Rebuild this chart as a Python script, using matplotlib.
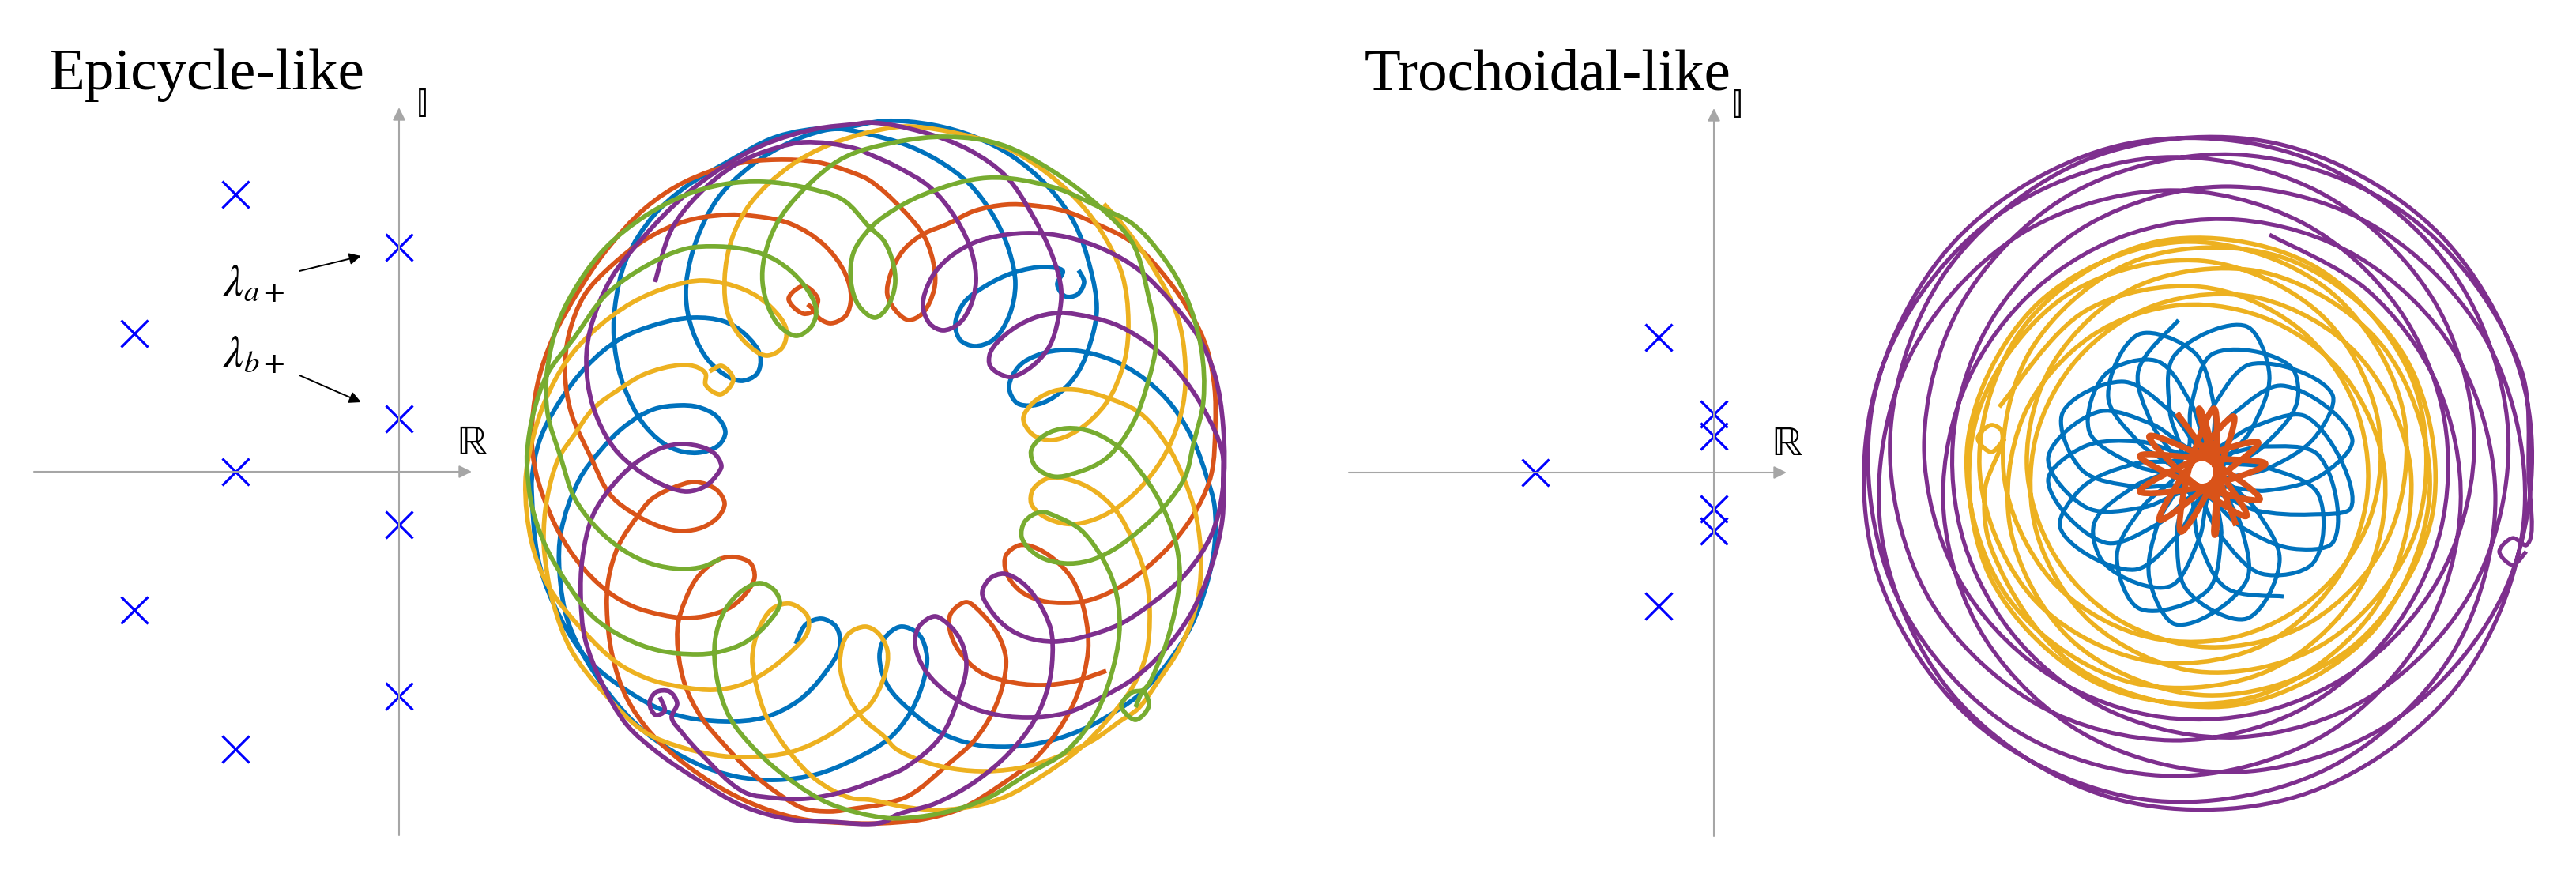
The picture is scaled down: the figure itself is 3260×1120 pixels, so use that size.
import numpy as np
import matplotlib
matplotlib.use("Agg")
import matplotlib.pyplot as plt
from matplotlib.path import Path
from matplotlib.patches import PathPatch

plt.rcParams["mathtext.fontset"] = "stix"
plt.rcParams["font.family"] = ["Liberation Serif", "DejaVu Serif"]

# ---------------------------
# poles
# ---------------------------
epi_re = [-2.07, -3.35, 0, 0, 0, -2.07, 0, -3.35, -2.07]
epi_im = [3.51, 1.75, 2.84, 0.67, -0.67, 0, -2.84, -1.75, -3.51]
tro_re = [-0.70, -2.26, 0, 0, 0, 0, -0.70]
tro_im = [1.71, 0, 0.74, 0.46, -0.46, -0.74, -1.69]

titles = ["Epicycle-like", "Trochoidal-like"]
labels = [r"$\lambda_{a+}$", r"$\lambda_{b+}$"]

# ---------------------------
# orbit traces in image pixels
# epi_* were traced line by line off the picture.
# tro_* are rough: single lines can't be followed through the lattice, so these
# points were worked out by hand from the envelope radii, tips and crossings
# They match the look, not each individual line.
# ---------------------------
epi_blue = [(1365,342),(1372,357),(1363,373),(1348,375),(1338,360),(1345,343),(1323,338),(1283,345),(1247,362),(1220,383),(1209,410),(1215,430),(1233,438),(1257,430),(1277,400),(1285,360),(1277,317),(1257,273),(1227,233),(1187,203),(1143,182),(1100,170),(1077,165),(1050,162),(983,173),(917,207),(867,237),(827,273),(793,327),(778,390),(778,440),(790,490),(817,540),(850,567),(883,573),(910,563),(918,547),(907,527),(883,515),(860,513),(827,518),(790,540),(760,570),(733,607),(710,673),(708,723),(720,790),(767,873),(817,927),(883,967),(933,983),(983,987),(1033,980),(1083,960),(1127,933),(1153,900),(1170,857),(1173,830),(1163,803),(1140,793),(1120,807),(1113,830),(1123,867),(1153,900),(1190,927),(1233,942),(1277,945),(1327,938),(1377,920),(1417,897),(1443,878),(1477,840),(1507,793),(1527,740),(1537,690),(1537,640),(1527,603),(1510,557),(1483,513),(1453,483),(1417,460),(1380,447),(1347,443),(1317,448),(1290,463),(1277,490),(1287,510),(1307,513),(1333,503),(1363,473),(1383,423),(1388,390),(1380,340),(1360,283),(1327,237),(1280,197),(1233,173),(1180,158),(1120,153),(1067,162),(1043,165),(1000,180),(950,210),(907,253),(877,317),(868,373),(877,420),(900,460),(937,482),(958,473),(962,450),(943,423),(917,407),(877,402),(833,410),(783,430),(743,463),(707,510),(683,557),(673,607),(673,623),(681,707),(700,763),(740,830),(783,867),(850,903),(917,913),(967,908),(1010,887),(1043,853),(1063,817),(1058,793),(1040,783),(1020,790),(1007,815)]
epi_orange = [(1022,385),(1030,393),(1017,397),(998,378),(1017,362),(1035,378),(1032,397),(1050,409),(1070,400),(1077,377),(1070,347),(1043,310),(1000,283),(950,273),(917,272),(867,280),(817,303),(773,337),(740,373),(720,423),(715,473),(723,523),(747,577),(773,627),(807,653),(837,667),(863,672),(890,667),(910,653),(917,637),(907,620),(880,610),(850,618),(823,633),(807,653),(783,690),(770,733),(768,770),(775,830),(793,883),(823,927),(867,967),(917,1000),(967,1023),(1017,1037),(1083,1042),(1113,1042),(1167,1037),(1217,1023),(1267,993),(1307,963),(1340,923),(1363,880),(1377,823),(1373,777),(1357,733),(1333,707),(1307,692),(1290,690),(1273,703),(1273,723),(1290,747),(1317,760),(1347,763),(1377,760),(1417,743),(1453,717),(1490,680),(1517,640),(1533,600),(1538,540),(1537,490),(1527,440),(1507,397),(1477,353),(1433,307),(1387,283),(1347,267),(1307,260),(1273,259),(1233,267),(1200,283),(1167,297),(1143,317),(1127,347),(1123,373),(1137,397),(1150,405),(1167,397),(1182,367),(1183,343),(1170,300),(1140,263),(1100,228),(1083,220),(1033,205),(983,202),(933,207),(867,230),(817,263),(767,317),(733,367),(700,427),(680,487),(673,557),(678,597),(687,627),(707,673),(733,713),(767,747),(800,767),(837,778),(867,782),(900,778),(927,767),(947,747),(955,730),(950,713),(930,705),(910,708),(883,730),(867,760),(858,790),(858,823),(867,867),(887,907),(917,943),(950,977),(983,1003),(1017,1023),(1050,1027),(1083,1023),(1120,1017),(1150,1007),(1200,967),(1233,937),(1257,900),(1270,863),(1273,833),(1263,803),(1243,777),(1223,762),(1203,777),(1202,797),(1213,823),(1240,850),(1273,862),(1317,867),(1360,862),(1400,849)]
epi_yellow = [(898,470),(913,463),(928,480),(912,499),(893,487),(893,473),(883,465),(863,462),(817,473),(783,493),(750,518),(727,550),(707,580),(692,633),(688,683),(692,723),(700,763),(723,823),(767,880),(817,927),(867,947),(917,957),(950,958),(1000,952),(1050,930),(1087,903),(1100,893),(1120,853),(1123,823),(1110,800),(1095,793),(1073,803),(1063,837),(1072,877),(1090,907),(1120,933),(1133,947),(1167,963),(1207,973),(1250,976),(1300,970),(1340,957),(1383,937),(1417,913),(1440,897),(1467,860),(1493,820),(1513,770),(1520,713),(1513,650),(1497,603),(1477,563),(1443,523),(1400,503),(1360,493),(1333,495),(1307,510),(1295,530),(1307,550),(1330,557),(1360,547),(1400,510),(1423,457),(1428,407),(1420,347),(1390,287),(1360,250),(1317,213),(1273,187),(1217,170),(1150,160),(1120,163),(1050,183),(1000,210),(950,257),(927,300),(917,353),(922,400),(943,433),(970,450),(990,440),(995,417),(977,390),(943,367),(890,355),(850,362),(800,383),(750,420),(717,457),(690,507),(673,560),(665,610),(673,687),(693,740),(737,797),(783,840),(823,860),(867,870),(903,873),(937,867),(970,850),(1003,823),(1022,800),(1022,780),(1000,764),(978,770),(960,797),(952,833),(957,867),(970,907),(1000,953),(1033,987),(1077,1010),(1100,1012),(1150,1022),(1190,1025),(1233,1020),(1273,1008),(1317,983),(1367,947),(1400,913),(1433,870),(1450,830),(1455,773),(1450,730),(1433,683),(1413,647),(1383,620),(1353,607),(1327,605),(1307,620),(1305,637),(1320,653),(1350,663),(1377,660),(1413,643),(1447,613),(1477,570),(1497,513),(1500,460),(1490,400),(1460,340),(1417,280),(1397,258)]
epi_purple = [(835,882),(841,900),(830,905),(822,890),(830,876),(847,875),(857,890),(850,908),(863,927),(890,957),(943,1003),(983,1010),(1017,1011),(1067,1002),(1120,983),(1143,973),(1190,933),(1213,883),(1223,843),(1217,813),(1200,790),(1183,780),(1163,793),(1158,813),(1170,847),(1213,887),(1250,902),(1300,908),(1350,902),(1393,883),(1433,860),(1470,827),(1507,777),(1533,717),(1547,657),(1548,603),(1547,573),(1523,517),(1493,473),(1460,440),(1417,413),(1383,402),(1340,396),(1307,403),(1273,423),(1253,447),(1253,463),(1277,477),(1300,468),(1327,440),(1340,400),(1343,367),(1333,327),(1307,273),(1273,223),(1227,190),(1167,167),(1100,155),(1083,157),(1033,163),(967,183),(917,210),(867,247),(817,297),(773,353),(747,417),(742,457),(750,513),(777,567),(810,597),(847,617),(870,622),(893,615),(910,597),(913,590),(903,573),(867,562),(837,567),(803,587),(773,617),(750,653),(737,707),(735,757),(740,807),(763,867),(793,917),(833,953),(883,987),(940,1020),(1000,1037),(1050,1040),(1120,1040),(1133,1032),(1183,1017),(1233,990),(1277,953),(1310,910),(1327,867),(1332,830),(1330,797),(1313,760),(1293,737),(1270,726),(1253,732),(1243,750),(1250,767),(1273,793),(1300,807),(1333,812),(1367,807),(1417,790),(1453,767),(1500,727),(1533,677),(1547,623),(1548,540),(1537,473),(1517,427),(1483,383),(1443,343),(1400,317),(1350,300),(1307,295),(1267,298),(1233,307),(1200,327),(1178,353),(1168,387),(1177,410),(1193,418),(1213,410),(1227,390),(1235,357),(1230,320),(1210,277),(1177,237),(1133,210),(1100,195),(1083,188),(1017,180),(983,187),(933,207),(883,247),(850,290),(829,357)]
epi_green = [(1437,895),(1447,875),(1454,893),(1437,911),(1419,893),(1433,876),(1447,873),(1467,837),(1473,823),(1490,757),(1493,723),(1487,683),(1467,633),(1438,590),(1417,567),(1383,547),(1350,542),(1323,550),(1305,570),(1310,590),(1333,603),(1363,598),(1400,580),(1433,537),(1453,483),(1463,433),(1453,373),(1433,307),(1393,263),(1333,217),(1267,183),(1200,173),(1133,180),(1067,200),(1017,240),(983,283),(967,327),(965,357),(973,390),(987,413),(1008,425),(1027,413),(1033,393),(1017,360),(983,330),(950,317),(910,312),(867,315),(817,337),(767,373),(727,427),(693,473),(675,523),(667,573),(667,590),(673,640),(690,690),(717,737),(750,780),(790,807),(833,823),(883,828),(910,825),(943,813),(973,787),(987,763),(980,747),(962,738),(940,747),(917,773),(905,810),(907,857),(923,907),(957,950),(1000,987),(1050,1017),(1120,1035),(1150,1035),(1200,1027),(1250,1010),(1300,980),(1350,950),(1387,903),(1410,840),(1417,790),(1410,740),(1393,703),(1367,670),(1340,655),(1317,648),(1297,660),(1293,680),(1313,703),(1347,713),(1377,710),(1407,697),(1447,667),(1477,637),(1500,603),(1510,563),(1523,507),(1520,440),(1500,373),(1473,327),(1433,283),(1393,263),(1333,237),(1250,225),(1167,247),(1120,273),(1100,290),(1080,320),(1077,357),(1087,387),(1107,402),(1120,393),(1133,357),(1120,307),(1100,287),(1067,253),(1017,237),(967,230),(917,233),(867,247),(817,273),(767,313),(733,357),(707,407),(692,473),(693,523),(710,580),(727,630),(757,670),(790,697),(823,713),(863,720),(890,717),(912,707)]

tro_purple = [(3197,698),(3180,715),(3163,698),(3180,681),(3197,690),(3200,600),(3189,463),(3049,274),(2836,196),(2625,243),(2482,385),(2435,565),(2478,731),(2584,848),(2720,905),(2864,901),(2996,837),(3094,718),(3131,553),(3078,377),(2933,242),(2723,200),(2514,283),(2379,473),(2372,712),(2500,915),(2715,1012),(2941,975),(3103,828),(3158,632),(3108,448),(2984,325),(2832,278),(2684,300),(2563,378),(2483,499),(2460,651),(2512,808),(2643,932),(2834,977),(3033,910),(3174,738),(3198,506),(3087,296),(2878,181),(2641,202),(2461,346),(2392,555),(2441,757),(2579,892),(2750,937),(2908,900),(3024,803),(3088,674),(3093,529),(3035,390),(2914,282),(2741,241),(2556,297),(2417,451),(2380,669),(2472,880),(2670,1009),(2910,1007),(3106,873),(3194,658),(3151,439),(3006,287),(2817,236),(2643,284),(2524,399),(2473,543),(2486,688),(2556,813),(2675,902),(2833,933),(2999,882),(3130,744),(3174,544),(3100,339),(2918,200),(2682,184),(2475,304),(2369,517),(2398,749),(2544,920),(2747,982),(2940,931),(3069,800),(3114,638),(3084,486),(2997,368),(2872,297)]
tro_yellow = [(2537,555),(2520,572),(2503,555),(2520,538),(2533,545),(2512,620),(2520,694),(2632,847),(2825,893),(3001,801),(3075,619),(3016,439),(2866,345),(2705,362),(2598,460),(2565,586),(2599,701),(2679,783),(2795,819),(2923,788),(3023,679),(3040,515),(2944,365),(2762,306),(2580,383),(2490,561),(2538,752),(2691,862),(2868,850),(2988,742),(3018,600),(2969,478),(2875,406),(2761,386),(2647,425),(2561,526),(2545,673),(2627,815),(2794,880),(2975,820),(3078,652),(3045,454),(2895,328),(2705,329),(2570,443),(2536,601),(2596,734),(2706,803),(2825,807),(2929,755),(2999,657),(3008,525),(2936,397),(2785,330),(2612,376),(2501,530),(2517,727),(2659,867),(2855,881),(3007,768),(3051,597),(2984,449),(2858,377),(2728,386),(2630,453),(2576,555),(2578,676),(2647,788),(2782,850),(2942,814),(3056,676),(3055,486),(2927,336),(2729,306),(2563,411),(2505,590),(2571,755),(2711,835),(2856,820),(2955,736),(2996,624),(2979,510),(2907,414),(2785,363),(2640,393),(2530,515)]
tro_blue = [(2757,405),(2706,470),(2724,538),(2757,594),(2712,641),(2679,703),(2707,770),(2794,747),(2811,678),(2808,613),(2870,593),(2929,554),(2952,500),(2848,461),(2801,514),(2773,572),(2709,559),(2638,565),(2592,607),(2665,687),(2731,663),(2784,625),(2835,666),(2900,694),(2952,687),(2933,575),(2864,565),(2799,573),(2774,513),(2730,457),(2665,473),(2644,546),(2700,588),(2761,611),(2755,676),(2767,746),(2843,783),(2885,709),(2855,645),(2813,596),(2850,542),(2872,475),(2843,413),(2751,451),(2746,521),(2760,585),(2702,615),(2650,663),(2663,713),(2746,742),(2783,682),(2801,620),(2867,621),(2935,603),(2977,557),(2888,488),(2827,523),(2781,569),(2724,537),(2656,521),(2592,580),(2642,643),(2713,642),(2775,623),(2810,678),(2862,726),(2927,713),(2933,624),(2870,592),(2806,579),(2802,514),(2778,447),(2707,423),(2668,503),(2708,561),(2758,603),(2731,662),(2720,732),(2753,790),(2843,735),(2836,665),(2812,605),(2864,565),(2907,509),(2900,465),(2800,448),(2773,513),(2765,577),(2701,587),(2636,616),(2607,667),(2701,721),(2756,677),(2793,624),(2855,646),(2925,651),(2975,643),(2918,527),(2849,541),(2791,570),(2747,521),(2687,483),(2610,523),(2635,595),(2702,616),(2767,619),(2782,682),(2817,744),(2890,755)]
tro_orange = [(2755,523),(2801,586),(2843,653),(2773,609),(2720,552),(2795,582),(2860,632),(2779,614),(2708,577),(2788,580),(2867,587),(2788,616),(2708,622),(2778,582),(2858,560),(2798,612),(2733,658),(2773,587),(2827,527),(2804,603),(2760,673),(2771,590),(2802,517),(2805,597),(2803,677),(2805,595),(2783,517),(2804,592),(2830,665)]

colors = {"blue": "#0072BD", "orange": "#D95319", "yellow": "#EDB120",
          "purple": "#7E2F8E", "green": "#77AC30"}
axis_gray = "#A6A6A6"


def smooth_path(pts):
    p = np.array(pts, dtype=float)
    d = np.diff(p, axis=0)
    l = np.hypot(d[:, 0], d[:, 1])
    u = d / l[:, None]
    t = np.zeros_like(p)
    t[0] = u[0]
    t[-1] = u[-1]
    t[1:-1] = u[:-1] + u[1:]
    raw = np.hypot(t[:, 0], t[:, 1]) + 1e-9
    t = t / raw[:, None]
    # shorter handles at hairpins so the tips stay narrow
    k = np.clip(raw / 2, 0.15, 1)
    verts = [p[0]]
    codes = [Path.MOVETO]
    for i in range(len(p) - 1):
        verts += [p[i] + t[i] * k[i] * l[i] / 3,
                  p[i + 1] - t[i + 1] * k[i + 1] * l[i] / 3,
                  p[i + 1]]
        codes += [Path.CURVE4] * 3
    return Path(verts, codes)


def draw_orbit(ax, pts, color, lw=4.1):
    ax.add_patch(PathPatch(smooth_path(pts), fill=False, ec=color, lw=lw,
                           capstyle="butt", joinstyle="round"))


def draw_plane(ax, re, im):
    arrow = dict(arrowstyle="-|>", color=axis_gray, lw=1.5, mutation_scale=24,
                 shrinkA=0, shrinkB=0)
    ax.annotate("", xy=(0.92, 0), xytext=(-4.62, 0), arrowprops=arrow)
    ax.annotate("", xy=(0, 4.61), xytext=(0, -4.60), arrowprops=arrow)
    ax.plot(re, im, "x", color="#0000FF", ms=25, mew=2.3)
    bb = ["STIXGeneral", "DejaVu Sans"]
    ax.text(0.29, 4.62, "\U0001D540", fontsize=38, ha="center", va="center", family=bb)
    ax.text(0.93, 0.35, "\u211D", fontsize=38, ha="center", va="center", family=bb)
    ax.axis("off")


fig = plt.figure(figsize=(32.6, 11.2), dpi=100)

# orbit layer in image pixels
ax = fig.add_axes([0, 0, 1, 1])
ax.set_xlim(0, 3260)
ax.set_ylim(1120, 0)
ax.axis("off")

draw_orbit(ax, epi_blue, colors["blue"])
draw_orbit(ax, epi_orange, colors["orange"])
draw_orbit(ax, epi_yellow, colors["yellow"])
draw_orbit(ax, epi_purple, colors["purple"])
draw_orbit(ax, epi_green, colors["green"])

draw_orbit(ax, tro_purple, colors["purple"], lw=3.7)
draw_orbit(ax, tro_yellow, colors["yellow"], lw=4.0)
draw_orbit(ax, tro_blue, colors["blue"], lw=3.7)
draw_orbit(ax, tro_orange, colors["orange"], lw=5.5)

ax.text(62, 113, titles[0], fontsize=54, va="baseline", ha="left")
ax.text(1727, 114, titles[1], fontsize=54, va="baseline", ha="left")

# complex planes, unit = 100 image pixels
ax_l = fig.add_axes([0, 0, 0.5, 1])
ax_l.set_xlim(-5.05, 11.25)
ax_l.set_ylim(-5.23, 5.97)
ax_l.patch.set_alpha(0)
draw_plane(ax_l, epi_re, epi_im)

ax_r = fig.add_axes([0.5, 0, 0.5, 1])
ax_r.set_xlim(-5.39, 10.91)
ax_r.set_ylim(-5.22, 5.98)
ax_r.patch.set_alpha(0)
draw_plane(ax_r, tro_re, tro_im)

ax_l.text(-2.23, 2.37, labels[0], fontsize=40, ha="left", va="center")
ax_l.text(-2.23, 1.47, labels[1], fontsize=40, ha="left", va="center")
small_arrow = dict(arrowstyle="-|>", color="black", lw=1.4, mutation_scale=22,
                   shrinkA=0, shrinkB=0)
ax_l.annotate("", xy=(-0.48, 2.73), xytext=(-1.26, 2.54), arrowprops=small_arrow)
ax_l.annotate("", xy=(-0.48, 0.88), xytext=(-1.26, 1.22), arrowprops=small_arrow)

fig.savefig("out.png", dpi=100)
